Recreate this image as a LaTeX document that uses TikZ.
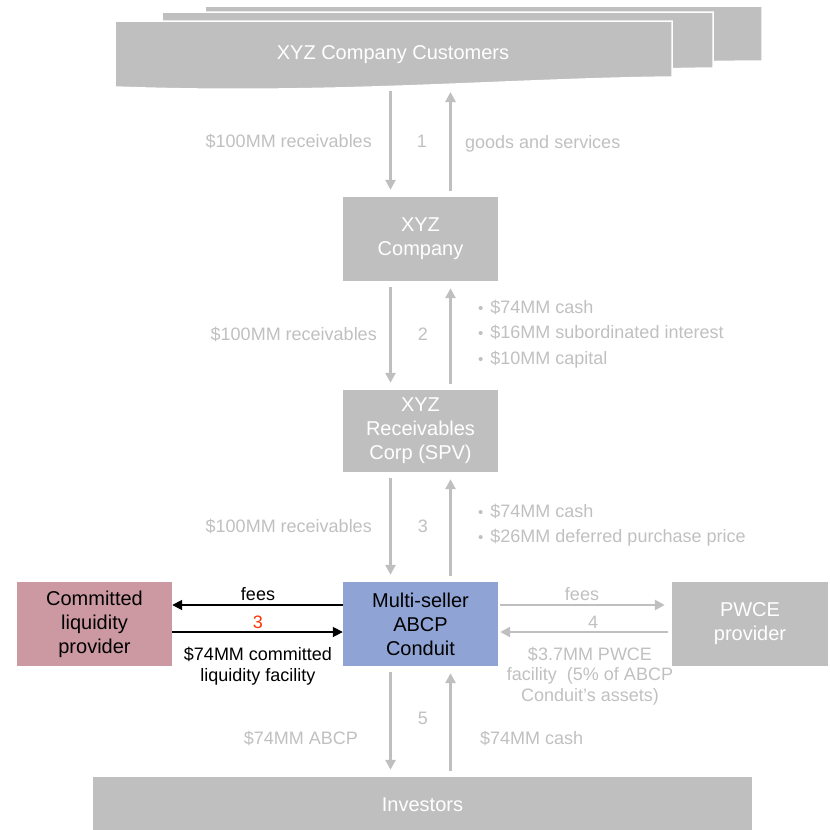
\documentclass[tikz,border=0pt]{standalone}
\usepackage{fontspec}
\setmainfont{Liberation Sans}
\usetikzlibrary{arrows.meta}
\definecolor{boxgray}{HTML}{BFBFBF}
\definecolor{lblgray}{HTML}{C0C0C0}
\definecolor{conduitblue}{HTML}{8FA3D5}
\definecolor{liqpink}{HTML}{CC99A3}
\definecolor{numred}{HTML}{FF3300}
\newcommand{\boxfont}{\fontsize{20}{24}\selectfont}
\newcommand{\lblfont}{\fontsize{18}{20.5}\selectfont}
\newcommand{\dotitem}{{\fontsize{15}{12}\selectfont\textbullet}\hspace{7pt}}
\tikzset{
    sheet/.style = {fill=boxgray, draw=white, line width=1.5pt},
    gray-box/.style = {fill=boxgray, text=white, font=\boxfont, align=center, minimum width=155pt, minimum height=84pt, inner sep=0pt},
    color-box/.style = {gray-box, text=black},
    flow-label/.style = {text=lblgray, font=\lblfont, inner sep=0pt},
    dark-label/.style = {text=black, font=\lblfont, align=center, inner sep=0pt},
    flow-arrow/.style = {draw=boxgray, line width=2.5pt, -{Triangle[width=10pt,length=10pt]}, shorten <=6pt, shorten >=7pt},
    black-arrow/.style = {draw=black, line width=1.8pt, -{Triangle[width=10pt,length=10pt]}},
}

\begin{document}
\begin{tikzpicture}[x=1pt, y=-1pt]
\useasboundingbox (0,0) rectangle (830,830);

% customers, three stacked sheets
\draw[sheet] (205,6) -- (762,6) -- (762,61) .. controls (600,62) and (420,72) .. (205,66) -- cycle;
\draw[sheet] (162,12) -- (713,12) -- (713,68) .. controls (540,70) and (380,84) .. (162,78) -- cycle;
\draw[sheet] (115,21) -- (672,21) -- (672,77) .. controls (500,79) and (330,95) .. (115,87) -- cycle;
\node[text=white, font=\boxfont] (cust) at (393,55) {XYZ Company Customers};
\coordinate (cust-foot) at (420.5,85);

\node[gray-box] (xyz) at (420.5,239) {XYZ\\Company};
\node[gray-box, minimum height=82pt] (spv) at (420.5,431) {XYZ\\Receivables\\Corp (SPV)};
\node[color-box, fill=conduitblue] (conduit) at (420.5,624) {Multi-seller\\ABCP\\Conduit};
\node[color-box, fill=liqpink] (liq) at (94.5,624) {Committed\\liquidity\\provider};
\node[gray-box, minimum width=156pt] (pwce) at (750,624) {PWCE\\provider};
\node[gray-box, minimum width=659pt, minimum height=56pt] (inv) at (422.5,805) {Investors};

% customers and XYZ Company
\draw[flow-arrow] ([xshift=-30pt]cust-foot) -- ([xshift=-30pt]xyz.north);
\draw[flow-arrow] ([xshift=30pt]xyz.north) -- ([xshift=30pt]cust-foot);
\node[flow-label, anchor=east] (rec1) at (372,141) {\$100MM receivables};
\node[flow-label] (n1) at (422,141) {1};
\node[flow-label, anchor=west] (goods) at (465,144) {goods and services};

% XYZ Company and SPV
\draw[flow-arrow] ([xshift=-30pt]xyz.south) -- ([xshift=-30pt]spv.north);
\draw[flow-arrow] ([xshift=30pt]spv.north) -- ([xshift=30pt]xyz.south);
\node[flow-label, anchor=east] (rec2) at (377,334) {\$100MM receivables};
\node[flow-label] (n2) at (423,334) {2};
\node[flow-label, anchor=west, align=left, font=\fontsize{18}{25.5}\selectfont] (pay2) at (478,334)
    {\dotitem\$74MM cash\\\dotitem\$16MM subordinated interest\\\dotitem\$10MM capital};

% SPV and conduit
\draw[flow-arrow] ([xshift=-30pt]spv.south) -- ([xshift=-30pt]conduit.north);
\draw[flow-arrow] ([xshift=30pt]conduit.north) -- ([xshift=30pt]spv.south);
\node[flow-label, anchor=east] (rec3) at (372,526) {\$100MM receivables};
\node[flow-label] (n3) at (423,526) {3};
\node[flow-label, anchor=west, align=left, font=\fontsize{18}{25.5}\selectfont] (pay3) at (478,525)
    {\dotitem\$74MM cash\\\dotitem\$26MM deferred purchase price};

% liquidity provider
\draw[black-arrow] ([yshift=19pt]conduit.west) -- ([yshift=19pt]liq.east);
\draw[black-arrow] ([yshift=-8pt]liq.east) -- ([yshift=-8pt]conduit.west);
\node[dark-label] (fees-l) at (258,594) {fees};
\node[dark-label, text=numred] (n3b) at (258,622) {3};
\node[dark-label] (liq-fac) at (258,666) {\$74MM committed\\liquidity facility};

% PWCE provider
\draw[flow-arrow, shorten <=2pt] ([yshift=19pt]conduit.east) -- ([yshift=19pt]pwce.west);
\draw[flow-arrow, shorten <=4pt, shorten >=2pt] ([yshift=-8pt]pwce.west) -- ([yshift=-8pt]conduit.east);
\node[flow-label] (fees-r) at (582,594) {fees};
\node[flow-label] (n4) at (593,622) {4};
\node[flow-label, align=center] (pwce-fac) at (590,676) {\$3.7MM PWCE\\facility~ (5\% of ABCP\\Conduit's assets)};

% conduit and investors
\draw[flow-arrow] ([xshift=-30pt]conduit.south) -- ([xshift=-30pt]conduit.south |- inv.north);
\draw[flow-arrow] ([xshift=30pt]conduit.south |- inv.north) -- ([xshift=30pt]conduit.south);
\node[flow-label, anchor=east] (abcp) at (358,738) {\$74MM ABCP};
\node[flow-label] (n5) at (423,718) {5};
\node[flow-label, anchor=west] (cash5) at (480,738) {\$74MM cash};
\end{tikzpicture}
\end{document}
